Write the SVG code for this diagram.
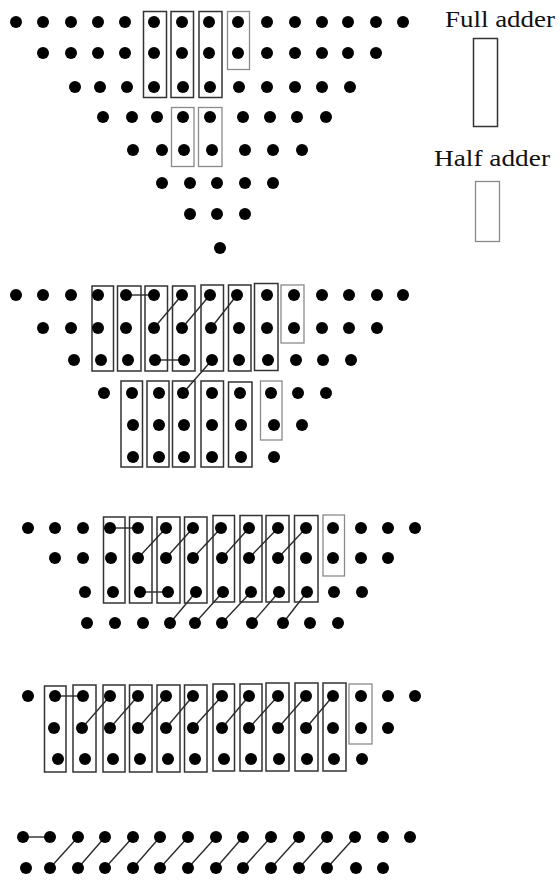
<svg xmlns="http://www.w3.org/2000/svg" width="560" height="880" viewBox="0 0 560 880">
<style>
.fa{fill:none;stroke:#333;stroke-width:1.5}
.ha{fill:none;stroke:#8a8a8a;stroke-width:1.3}
.c{stroke:#2a2a2a;stroke-width:1.4;fill:none}
.d{fill:#000}
.t{font-family:"Liberation Serif","Times New Roman",serif;font-size:24px;fill:#111}
</style>
<rect width="560" height="880" fill="#fff"/>
<g id="legend">
<text class="t" x="445" y="27" textLength="110" lengthAdjust="spacingAndGlyphs">Full adder</text>
<rect class="fa" x="473.5" y="38.5" width="24" height="88"/>
<text class="t" x="434" y="166" textLength="116" lengthAdjust="spacingAndGlyphs">Half adder</text>
<rect class="ha" x="475.5" y="181.5" width="24" height="60"/>
</g>
<g id="adders">
<rect class="fa" x="143.5" y="11.5" width="23" height="86"/>
<rect class="fa" x="171" y="11.5" width="22.5" height="86"/>
<rect class="fa" x="199" y="11.5" width="23" height="86"/>
<rect class="ha" x="227.5" y="11.5" width="22" height="58"/>
<rect class="ha" x="171.5" y="107.5" width="22.5" height="59"/>
<rect class="ha" x="198.5" y="107.5" width="23.5" height="59"/>
<rect class="fa" x="92" y="286" width="21.5" height="85"/>
<rect class="fa" x="117.5" y="286" width="23.5" height="85"/>
<rect class="fa" x="145" y="286" width="22.5" height="85"/>
<rect class="fa" x="172.5" y="286" width="22.5" height="85"/>
<rect class="fa" x="201" y="285" width="22.5" height="86"/>
<rect class="fa" x="228.5" y="285" width="22.5" height="86"/>
<rect class="fa" x="254.5" y="283.5" width="23.5" height="87"/>
<rect class="ha" x="281" y="285" width="23" height="58"/>
<rect class="fa" x="121" y="381" width="21.5" height="86"/>
<rect class="fa" x="147" y="381" width="22" height="86"/>
<rect class="fa" x="172.5" y="381" width="22.5" height="86"/>
<rect class="fa" x="201" y="381" width="22.5" height="86"/>
<rect class="fa" x="228.5" y="382" width="23.5" height="85"/>
<rect class="ha" x="260.5" y="381" width="21.5" height="59"/>
<rect class="fa" x="103.5" y="517" width="21.5" height="86"/>
<rect class="fa" x="129.5" y="517" width="22.5" height="86"/>
<rect class="fa" x="157" y="517" width="23" height="86"/>
<rect class="fa" x="184.5" y="517" width="22.5" height="86"/>
<rect class="fa" x="213" y="515.5" width="21.5" height="86.5"/>
<rect class="fa" x="240" y="515.5" width="22" height="86.5"/>
<rect class="fa" x="266" y="515.5" width="23" height="86.5"/>
<rect class="fa" x="294.5" y="515.5" width="23.5" height="86.5"/>
<rect class="ha" x="323" y="515" width="21.5" height="61"/>
<rect class="fa" x="44.5" y="686" width="21.5" height="86"/>
<rect class="fa" x="73" y="685" width="23" height="87"/>
<rect class="fa" x="103" y="685" width="22" height="87"/>
<rect class="fa" x="129.5" y="685" width="22.5" height="87"/>
<rect class="fa" x="157" y="685" width="23" height="87"/>
<rect class="fa" x="184.5" y="685" width="22.5" height="87"/>
<rect class="fa" x="213" y="684" width="21.5" height="87"/>
<rect class="fa" x="240" y="684" width="22" height="87"/>
<rect class="fa" x="266" y="683" width="23" height="88"/>
<rect class="fa" x="295" y="683" width="23" height="88"/>
<rect class="fa" x="323" y="683" width="23" height="88"/>
<rect class="ha" x="349" y="684" width="23" height="60"/>
</g>
<g id="connectors">
<line class="c" x1="126" y1="295" x2="154" y2="295"/>
<line class="c" x1="154" y1="328" x2="182" y2="295"/>
<line class="c" x1="182" y1="328" x2="210" y2="295"/>
<line class="c" x1="211" y1="328" x2="237" y2="295"/>
<line class="c" x1="155" y1="360" x2="184" y2="360"/>
<line class="c" x1="183" y1="393" x2="212" y2="360"/>
<line class="c" x1="110" y1="528" x2="138" y2="528"/>
<line class="c" x1="138" y1="558" x2="166" y2="528"/>
<line class="c" x1="166" y1="558" x2="193" y2="528"/>
<line class="c" x1="193" y1="558" x2="221" y2="528"/>
<line class="c" x1="222" y1="558" x2="249" y2="528"/>
<line class="c" x1="249" y1="558" x2="278" y2="528"/>
<line class="c" x1="278" y1="558" x2="306" y2="528"/>
<line class="c" x1="140" y1="592" x2="168" y2="592"/>
<line class="c" x1="170" y1="623" x2="196" y2="592"/>
<line class="c" x1="195" y1="623" x2="223" y2="592"/>
<line class="c" x1="222" y1="623" x2="251" y2="592"/>
<line class="c" x1="252" y1="623" x2="279" y2="592"/>
<line class="c" x1="283" y1="623" x2="307" y2="592"/>
<line class="c" x1="55" y1="696" x2="83" y2="696"/>
<line class="c" x1="82" y1="728" x2="110" y2="696"/>
<line class="c" x1="110" y1="728" x2="138" y2="696"/>
<line class="c" x1="138" y1="728" x2="166" y2="696"/>
<line class="c" x1="166" y1="728" x2="193" y2="696"/>
<line class="c" x1="193" y1="728" x2="222" y2="696"/>
<line class="c" x1="222" y1="728" x2="249" y2="696"/>
<line class="c" x1="249" y1="728" x2="278" y2="696"/>
<line class="c" x1="278" y1="728" x2="306" y2="696"/>
<line class="c" x1="306" y1="728" x2="333" y2="696"/>
<line class="c" x1="23" y1="837" x2="50" y2="837"/>
<line class="c" x1="50" y1="868" x2="78" y2="837"/>
<line class="c" x1="78" y1="868" x2="105" y2="837"/>
<line class="c" x1="105" y1="868" x2="133" y2="837"/>
<line class="c" x1="133" y1="868" x2="160" y2="837"/>
<line class="c" x1="160" y1="868" x2="188" y2="837"/>
<line class="c" x1="188" y1="868" x2="216" y2="837"/>
<line class="c" x1="216" y1="868" x2="243" y2="837"/>
<line class="c" x1="243" y1="868" x2="271" y2="837"/>
<line class="c" x1="271" y1="868" x2="299" y2="837"/>
<line class="c" x1="299" y1="868" x2="327" y2="837"/>
<line class="c" x1="327" y1="868" x2="355" y2="837"/>
</g>
<g id="stage1" class="d">
<circle cx="16" cy="22" r="6"/><circle cx="43" cy="22" r="6"/><circle cx="71" cy="22" r="6"/><circle cx="98" cy="22" r="6"/><circle cx="125" cy="22" r="6"/><circle cx="154" cy="22" r="6"/><circle cx="182" cy="22" r="6"/><circle cx="209" cy="22" r="6"/><circle cx="238" cy="22" r="6"/><circle cx="267" cy="22" r="6"/><circle cx="295" cy="22" r="6"/><circle cx="322" cy="22" r="6"/><circle cx="348" cy="22" r="6"/><circle cx="376" cy="22" r="6"/><circle cx="403" cy="22" r="6"/>
<circle cx="43" cy="53" r="6"/><circle cx="71" cy="53" r="6"/><circle cx="98" cy="53" r="6"/><circle cx="125" cy="53" r="6"/><circle cx="154" cy="53" r="6"/><circle cx="182" cy="53" r="6"/><circle cx="209" cy="53" r="6"/><circle cx="238" cy="53" r="6"/><circle cx="267" cy="53" r="6"/><circle cx="295" cy="53" r="6"/><circle cx="322" cy="53" r="6"/><circle cx="348" cy="53" r="6"/><circle cx="376" cy="53" r="6"/>
<circle cx="75" cy="87" r="6"/><circle cx="100" cy="87" r="6"/><circle cx="127" cy="87" r="6"/><circle cx="154" cy="87" r="6"/><circle cx="183" cy="87" r="6"/><circle cx="210" cy="87" r="6"/><circle cx="239" cy="87" r="6"/><circle cx="267" cy="87" r="6"/><circle cx="295" cy="87" r="6"/><circle cx="322" cy="87" r="6"/><circle cx="350" cy="87" r="6"/>
<circle cx="103" cy="117" r="6"/><circle cx="132" cy="117" r="6"/><circle cx="157" cy="117" r="6"/><circle cx="183" cy="117" r="6"/><circle cx="210" cy="117" r="6"/><circle cx="243" cy="117" r="6"/><circle cx="270" cy="117" r="6"/><circle cx="297" cy="117" r="6"/><circle cx="326" cy="117" r="6"/>
<circle cx="133" cy="150" r="6"/><circle cx="162" cy="150" r="6"/><circle cx="184" cy="150" r="6"/><circle cx="212" cy="150" r="6"/><circle cx="245" cy="150" r="6"/><circle cx="273" cy="150" r="6"/><circle cx="302" cy="150" r="6"/>
<circle cx="162" cy="183" r="6"/><circle cx="190" cy="183" r="6"/><circle cx="217" cy="183" r="6"/><circle cx="245" cy="183" r="6"/><circle cx="273" cy="183" r="6"/>
<circle cx="190" cy="214" r="6"/><circle cx="217" cy="214" r="6"/><circle cx="245" cy="214" r="6"/>
<circle cx="220" cy="248" r="6"/>
</g>
<g id="stage2" class="d">
<circle cx="16" cy="295" r="6"/><circle cx="43" cy="295" r="6"/><circle cx="71" cy="295" r="6"/><circle cx="98" cy="295" r="6"/><circle cx="126" cy="295" r="6"/><circle cx="154" cy="295" r="6"/><circle cx="182" cy="295" r="6"/><circle cx="210" cy="295" r="6"/><circle cx="237" cy="295" r="6"/><circle cx="267" cy="295" r="6"/><circle cx="294" cy="295" r="6"/><circle cx="322" cy="295" r="6"/><circle cx="349" cy="295" r="6"/><circle cx="377" cy="295" r="6"/><circle cx="403" cy="295" r="6"/>
<circle cx="43" cy="328" r="6"/><circle cx="71" cy="328" r="6"/><circle cx="98" cy="328" r="6"/><circle cx="126" cy="328" r="6"/><circle cx="154" cy="328" r="6"/><circle cx="182" cy="328" r="6"/><circle cx="211" cy="328" r="6"/><circle cx="239" cy="328" r="6"/><circle cx="267" cy="328" r="6"/><circle cx="294" cy="328" r="6"/><circle cx="322" cy="328" r="6"/><circle cx="349" cy="328" r="6"/><circle cx="377" cy="328" r="6"/>
<circle cx="74" cy="360" r="6"/><circle cx="101" cy="360" r="6"/><circle cx="128" cy="360" r="6"/><circle cx="155" cy="360" r="6"/><circle cx="184" cy="360" r="6"/><circle cx="212" cy="360" r="6"/><circle cx="239" cy="360" r="6"/><circle cx="268" cy="360" r="6"/><circle cx="296" cy="360" r="6"/><circle cx="323" cy="360" r="6"/><circle cx="351" cy="360" r="6"/>
<circle cx="104" cy="393" r="6"/><circle cx="132" cy="393" r="6"/><circle cx="159" cy="393" r="6"/><circle cx="183" cy="393" r="6"/><circle cx="212" cy="393" r="6"/><circle cx="240" cy="393" r="6"/><circle cx="271" cy="393" r="6"/><circle cx="298" cy="393" r="6"/><circle cx="326" cy="393" r="6"/>
<circle cx="133" cy="425" r="6"/><circle cx="159" cy="425" r="6"/><circle cx="184" cy="425" r="6"/><circle cx="212" cy="425" r="6"/><circle cx="241" cy="425" r="6"/><circle cx="274" cy="425" r="6"/><circle cx="302" cy="425" r="6"/>
<circle cx="133" cy="457" r="6"/><circle cx="159" cy="457" r="6"/><circle cx="184" cy="457" r="6"/><circle cx="212" cy="457" r="6"/><circle cx="241" cy="457" r="6"/><circle cx="274" cy="457" r="6"/>
</g>
<g id="stage3" class="d">
<circle cx="28" cy="528" r="6"/><circle cx="55" cy="528" r="6"/><circle cx="83" cy="528" r="6"/><circle cx="110" cy="528" r="6"/><circle cx="138" cy="528" r="6"/><circle cx="166" cy="528" r="6"/><circle cx="193" cy="528" r="6"/><circle cx="221" cy="528" r="6"/><circle cx="249" cy="528" r="6"/><circle cx="278" cy="528" r="6"/><circle cx="306" cy="528" r="6"/><circle cx="333" cy="528" r="6"/><circle cx="361" cy="528" r="6"/><circle cx="388" cy="528" r="6"/><circle cx="415" cy="528" r="6"/>
<circle cx="55" cy="558" r="6"/><circle cx="83" cy="558" r="6"/><circle cx="111" cy="558" r="6"/><circle cx="138" cy="558" r="6"/><circle cx="166" cy="558" r="6"/><circle cx="193" cy="558" r="6"/><circle cx="222" cy="558" r="6"/><circle cx="249" cy="558" r="6"/><circle cx="278" cy="558" r="6"/><circle cx="306" cy="558" r="6"/><circle cx="333" cy="558" r="6"/><circle cx="361" cy="558" r="6"/><circle cx="388" cy="558" r="6"/>
<circle cx="85" cy="592" r="6"/><circle cx="113" cy="592" r="6"/><circle cx="140" cy="592" r="6"/><circle cx="168" cy="592" r="6"/><circle cx="196" cy="592" r="6"/><circle cx="223" cy="592" r="6"/><circle cx="251" cy="592" r="6"/><circle cx="279" cy="592" r="6"/><circle cx="307" cy="592" r="6"/><circle cx="334" cy="592" r="6"/><circle cx="362" cy="592" r="6"/>
<circle cx="87" cy="623" r="6"/><circle cx="115" cy="623" r="6"/><circle cx="143" cy="623" r="6"/><circle cx="170" cy="623" r="6"/><circle cx="195" cy="623" r="6"/><circle cx="222" cy="623" r="6"/><circle cx="252" cy="623" r="6"/><circle cx="283" cy="623" r="6"/><circle cx="310" cy="623" r="6"/><circle cx="338" cy="623" r="6"/>
</g>
<g id="stage4" class="d">
<circle cx="28" cy="696" r="6"/><circle cx="55" cy="696" r="6"/><circle cx="83" cy="696" r="6"/><circle cx="110" cy="696" r="6"/><circle cx="138" cy="696" r="6"/><circle cx="166" cy="696" r="6"/><circle cx="193" cy="696" r="6"/><circle cx="222" cy="696" r="6"/><circle cx="249" cy="696" r="6"/><circle cx="278" cy="696" r="6"/><circle cx="306" cy="696" r="6"/><circle cx="333" cy="696" r="6"/><circle cx="361" cy="696" r="6"/><circle cx="388" cy="696" r="6"/><circle cx="415" cy="696" r="6"/>
<circle cx="54" cy="728" r="6"/><circle cx="82" cy="728" r="6"/><circle cx="110" cy="728" r="6"/><circle cx="138" cy="728" r="6"/><circle cx="166" cy="728" r="6"/><circle cx="193" cy="728" r="6"/><circle cx="222" cy="728" r="6"/><circle cx="249" cy="728" r="6"/><circle cx="278" cy="728" r="6"/><circle cx="306" cy="728" r="6"/><circle cx="333" cy="728" r="6"/><circle cx="361" cy="728" r="6"/><circle cx="388" cy="728" r="6"/>
<circle cx="58" cy="759" r="6"/><circle cx="85" cy="759" r="6"/><circle cx="113" cy="759" r="6"/><circle cx="140" cy="759" r="6"/><circle cx="168" cy="759" r="6"/><circle cx="195" cy="759" r="6"/><circle cx="224" cy="759" r="6"/><circle cx="251" cy="759" r="6"/><circle cx="279" cy="759" r="6"/><circle cx="307" cy="759" r="6"/><circle cx="334" cy="759" r="6"/><circle cx="362" cy="759" r="6"/>
</g>
<g id="stage5" class="d">
<circle cx="23" cy="837" r="6"/><circle cx="50" cy="837" r="6"/><circle cx="78" cy="837" r="6"/><circle cx="105" cy="837" r="6"/><circle cx="133" cy="837" r="6"/><circle cx="160" cy="837" r="6"/><circle cx="188" cy="837" r="6"/><circle cx="216" cy="837" r="6"/><circle cx="243" cy="837" r="6"/><circle cx="271" cy="837" r="6"/><circle cx="299" cy="837" r="6"/><circle cx="327" cy="837" r="6"/><circle cx="355" cy="837" r="6"/><circle cx="383" cy="837" r="6"/><circle cx="410" cy="837" r="6"/>
<circle cx="26" cy="868" r="6"/><circle cx="50" cy="868" r="6"/><circle cx="78" cy="868" r="6"/><circle cx="105" cy="868" r="6"/><circle cx="133" cy="868" r="6"/><circle cx="160" cy="868" r="6"/><circle cx="188" cy="868" r="6"/><circle cx="216" cy="868" r="6"/><circle cx="243" cy="868" r="6"/><circle cx="271" cy="868" r="6"/><circle cx="299" cy="868" r="6"/><circle cx="327" cy="868" r="6"/><circle cx="356" cy="868" r="6"/><circle cx="383" cy="868" r="6"/>
</g>
</svg>
